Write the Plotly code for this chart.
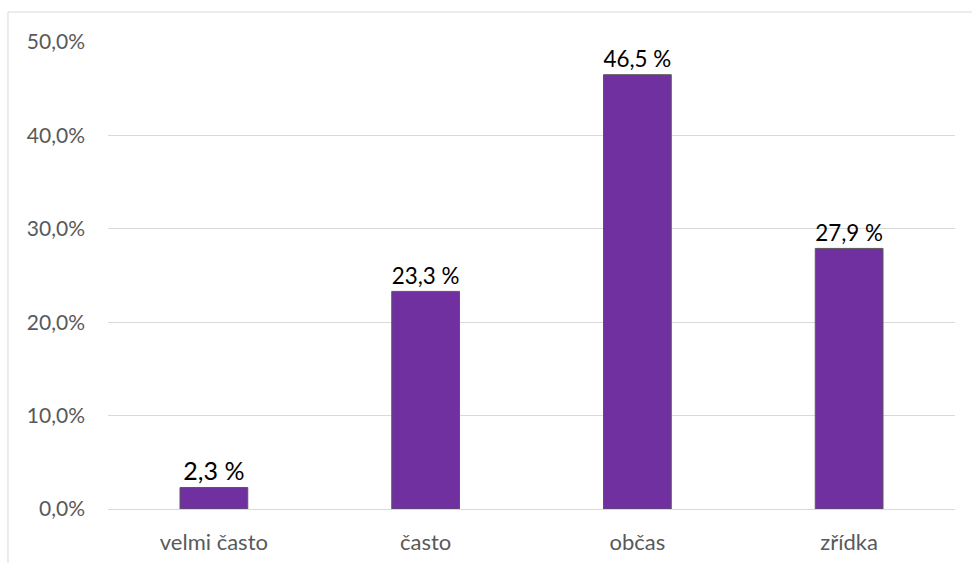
import plotly.graph_objects as go

categories = ["velmi často", "často", "občas", "zřídka"]
values = [2.3, 23.3, 46.5, 27.9]
tick_values = [0, 10, 20, 30, 40, 50]
tick_labels = ["0,0%", "10,0%", "20,0%", "30,0%", "40,0%", "50,0%"]

labels = [f"{v:.1f} %".replace(".", ",") for v in values]

fig = go.Figure(
    go.Bar(
        x=categories,
        y=values,
        text=labels,
        textposition="outside",
        textfont=dict(family="Lato, Open Sans, sans-serif", size=25, color="#000000"),
        cliponaxis=False,
        marker=dict(color="#7030A0", line=dict(color="#595959", width=1)),
        width=0.32,
    )
)

fig.update_layout(
    width=972,
    height=563,
    margin=dict(l=108, r=17, t=42, b=54),
    paper_bgcolor="#ffffff",
    plot_bgcolor="#ffffff",
    showlegend=False,
    font=dict(family="Lato, Open Sans, sans-serif", size=21, color="#595959"),
    xaxis=dict(
        showgrid=False,
        showline=False,
        ticks="",
        automargin=False,
        ticklabelstandoff=18,
        tickfont=dict(size=22, color="#595959"),
    ),
    yaxis=dict(
        range=[0, 50],
        tickvals=tick_values,
        ticktext=tick_labels,
        showgrid=True,
        gridcolor="#d9d9d9",
        gridwidth=1,
        zeroline=True,
        zerolinecolor="#d9d9d9",
        zerolinewidth=1,
        showline=False,
        ticks="",
        automargin=False,
        ticklabelstandoff=22,
        tickfont=dict(size=21, color="#595959"),
    ),
    shapes=[
        dict(
            type="rect",
            xref="paper",
            yref="paper",
            x0=-0.1181,
            x1=1.2,
            y0=-0.3,
            y1=1.0642,
            line=dict(color="#d9d9d9", width=1),
            fillcolor="rgba(0,0,0,0)",
            layer="below",
        )
    ],
)

fig.write_html("out.html")
